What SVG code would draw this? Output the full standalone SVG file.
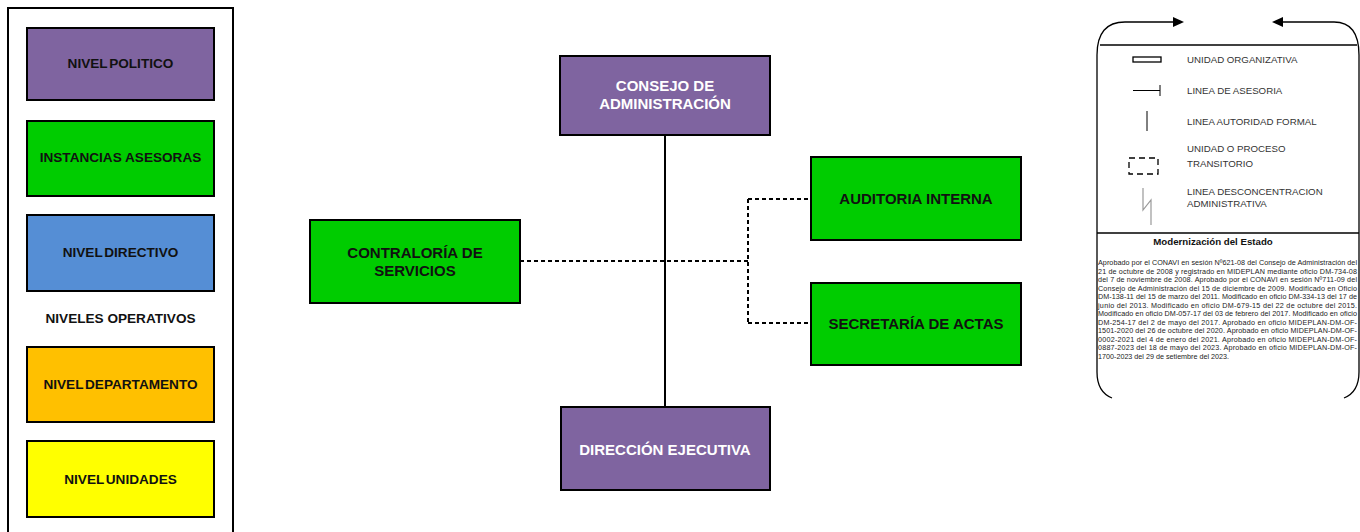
<svg xmlns="http://www.w3.org/2000/svg" width="1360" height="532" viewBox="0 0 1360 532">
  <defs>
    <style>
      .box { stroke: #000; stroke-width: 2; }
      .purple { fill: #7F64A0; }
      .green { fill: #00CC00; }
      .blue { fill: #558ED5; }
      .orange { fill: #FFC000; }
      .yellow { fill: #FFFF00; }
      .lbl { font-family: "Liberation Sans", Arial, sans-serif; font-weight: bold; text-anchor: middle; }
      .dark { fill: #111; }
      .light { fill: #fff; }
      .key { font-family: "Liberation Sans", Arial, sans-serif; font-size: 9.7px; fill: #333; }
      .note { font-family: "Liberation Sans", Arial, sans-serif; font-size: 7.2px; fill: #222; }
      .solid { fill: none; stroke: #000; stroke-width: 2; }
      .dash { fill: none; stroke: #000; stroke-width: 2; stroke-dasharray: 4 3; }
      .frame { fill: none; stroke: #000; stroke-width: 1.3; }
    </style>
  </defs>

  <rect width="1360" height="532" fill="#fff"/>

  <!-- level key panel -->
  <g id="level-key">
    <rect x="8" y="8" width="225" height="540" fill="none" stroke="#000" stroke-width="2"/>
    <g id="key-politico">
      <rect class="box purple" x="27" y="28" width="187" height="72"/>
      <text class="lbl dark" x="120.5" y="68" font-size="13.6" word-spacing="-2">NIVEL POLITICO</text>
    </g>
    <g id="key-asesoras">
      <rect class="box green" x="27" y="121" width="187" height="75"/>
      <text class="lbl dark" x="120.5" y="162" font-size="13.6">INSTANCIAS ASESORAS</text>
    </g>
    <g id="key-directivo">
      <rect class="box blue" x="27" y="215" width="187" height="76"/>
      <text class="lbl dark" x="120.5" y="257" font-size="13.6" word-spacing="-2">NIVEL DIRECTIVO</text>
    </g>
    <text class="lbl dark" x="120.5" y="323" font-size="13.6">NIVELES OPERATIVOS</text>
    <g id="key-departamento">
      <rect class="box orange" x="27" y="347" width="187" height="75"/>
      <text class="lbl dark" x="120.5" y="389" font-size="13.6" word-spacing="-2">NIVEL DEPARTAMENTO</text>
    </g>
    <g id="key-unidades">
      <rect class="box yellow" x="27" y="441" width="187" height="76"/>
      <text class="lbl dark" x="120.5" y="484" font-size="13.6" word-spacing="-2">NIVEL UNIDADES</text>
    </g>
  </g>

  <!-- connectors -->
  <g id="connectors">
    <path class="solid" d="M665,135 V407"/>
    <path class="dash" d="M520,261 H748"/>
    <path class="dash" d="M748,199 V323"/>
    <path class="dash" d="M748,199 H811"/>
    <path class="dash" d="M748,323 H811"/>
  </g>

  <!-- organisation units -->
  <g id="consejo">
    <rect class="box purple" x="560" y="56" width="210" height="79"/>
    <text class="lbl light" x="665" y="90.5" font-size="15">CONSEJO DE</text>
    <text class="lbl light" x="665" y="108.5" font-size="15">ADMINISTRACIÓN</text>
  </g>
  <g id="contraloria">
    <rect class="box green" x="310" y="220" width="210" height="83"/>
    <text class="lbl dark" x="415" y="257.5" font-size="15">CONTRALORÍA DE</text>
    <text class="lbl dark" x="415" y="275.5" font-size="15">SERVICIOS</text>
  </g>
  <g id="auditoria">
    <rect class="box green" x="811" y="157" width="210" height="83"/>
    <text class="lbl dark" x="916" y="203.5" font-size="15">AUDITORIA INTERNA</text>
  </g>
  <g id="secretaria">
    <rect class="box green" x="811" y="283" width="210" height="82"/>
    <text class="lbl dark" x="916" y="328.5" font-size="15">SECRETARÍA DE ACTAS</text>
  </g>
  <g id="direccion">
    <rect class="box purple" x="561" y="407" width="209" height="83"/>
    <text class="lbl light" x="665" y="454.5" font-size="15">DIRECCIÓN EJECUTIVA</text>
  </g>

  <!-- symbol legend -->
  <g id="symbol-legend">
    <path class="frame" d="M1097,55 V372 Q1097,392 1112,398"/>
    <path class="frame" d="M1359,55 V372 Q1359,392 1344,398"/>
    <path class="frame" d="M1097,55 Q1097,22 1125,22 H1174"/>
    <path class="frame" d="M1359,55 Q1359,22 1334,22 H1282"/>
    <!-- arrowheads on the top curves -->
    <path d="M1173,17 L1184,22 L1173,27 Z" fill="#000"/>
    <path d="M1283,17 L1272,22 L1283,27 Z" fill="#000"/>
    <path class="frame" d="M1100,45 H1357"/>

    <rect x="1133" y="57" width="28" height="5" fill="none" stroke="#000" stroke-width="1.3"/>
    <text class="key" x="1187" y="63">UNIDAD ORGANIZATIVA</text>

    <path d="M1133,90.5 H1160 M1160,85 V96" fill="none" stroke="#000" stroke-width="1"/>
    <text class="key" x="1187" y="94">LINEA DE ASESORIA</text>

    <path d="M1147,111 V131" fill="none" stroke="#000" stroke-width="1"/>
    <text class="key" x="1187" y="125">LINEA AUTORIDAD FORMAL</text>

    <rect x="1129" y="158" width="29" height="16" fill="none" stroke="#000" stroke-width="1.3" stroke-dasharray="6 4"/>
    <text class="key" x="1187" y="152">UNIDAD O PROCESO</text>
    <text class="key" x="1187" y="167">TRANSITORIO</text>

    <path d="M1143,188 V210 L1151,200 V225" fill="none" stroke="#999" stroke-width="1.2"/>
    <text class="key" x="1187" y="195">LINEA DESCONCENTRACION</text>
    <text class="key" x="1187" y="207">ADMINISTRATIVA</text>

    <path class="frame" d="M1097,233 H1359"/>
    <text x="1213" y="245" font-family="Liberation Sans, Arial, sans-serif" font-size="9.7" font-weight="bold" fill="#111" text-anchor="middle">Modernización del Estado</text>

    <g class="note">
      <text x="1098" y="265" textLength="259" lengthAdjust="spacing">Aprobado por el CONAVI en sesión Nº621-08 del Consejo de Administración del</text>
      <text x="1098" y="273.5" textLength="259" lengthAdjust="spacing">21 de octubre de 2008 y registrado en MIDEPLAN mediante oficio DM-734-08</text>
      <text x="1098" y="282" textLength="259" lengthAdjust="spacing">del 7 de noviembre de 2008. Aprobado por el CONAVI en sesión Nº711-09 del</text>
      <text x="1098" y="290.5" textLength="259" lengthAdjust="spacing">Consejo de Administración del 15 de diciembre de 2009. Modificado en Oficio</text>
      <text x="1098" y="299" textLength="259" lengthAdjust="spacing">DM-138-11 del 15 de marzo del 2011. Modificado en oficio DM-334-13 del 17 de</text>
      <text x="1098" y="307.5" textLength="259" lengthAdjust="spacing">junio del 2013. Modificado en oficio DM-679-15 del 22 de octubre del 2015.</text>
      <text x="1098" y="316" textLength="259" lengthAdjust="spacing">Modificado en oficio DM-057-17 del 03 de febrero del 2017. Modificado en oficio</text>
      <text x="1098" y="324.5" textLength="259" lengthAdjust="spacing">DM-254-17 del 2 de mayo del 2017. Aprobado en oficio MIDEPLAN-DM-OF-</text>
      <text x="1098" y="333" textLength="259" lengthAdjust="spacing">1501-2020 del 26 de octubre del 2020. Aprobado en oficio MIDEPLAN-DM-OF-</text>
      <text x="1098" y="341.5" textLength="259" lengthAdjust="spacing">0002-2021 del 4 de enero del 2021. Aprobado en oficio MIDEPLAN-DM-OF-</text>
      <text x="1098" y="350" textLength="259" lengthAdjust="spacing">0887-2023 del 18 de mayo del 2023. Aprobado en oficio MIDEPLAN-DM-OF-</text>
      <text x="1098" y="358.5">1700-2023 del 29 de setiembre del 2023.</text>
    </g>
  </g>
</svg>
